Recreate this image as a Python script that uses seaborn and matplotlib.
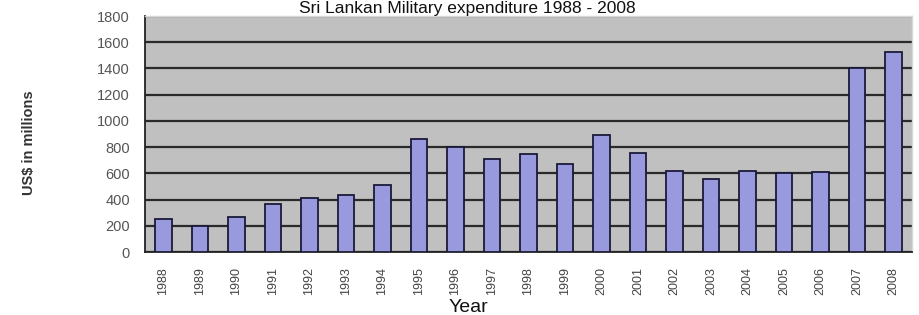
import numpy as np
import pandas as pd
import matplotlib
matplotlib.use('Agg')
import matplotlib.pyplot as plt
import seaborn as sns

years = [str(y) for y in range(1988, 2009)]
spend = [250, 195, 270, 365, 411, 437, 508, 864, 800, 710, 749, 672,
         894, 753, 615, 557, 615, 603, 611, 1400, 1527]
yticks = [0, 200, 400, 600, 800, 1000, 1200, 1400, 1600, 1800]

df = pd.DataFrame({'Year': years, 'spend': spend})

sns.set_style('white')
plt.rcParams['font.family'] = ['Liberation Sans', 'DejaVu Sans']

fig = plt.figure(figsize=(9.19, 3.15), dpi=100)
ax = fig.add_axes([0.158, 0.2, 0.834, 0.749])
ax.set_facecolor('#c0c0c0')

sns.barplot(data=df, x='Year', y='spend', color='#9999dd', width=0.45,
            edgecolor='#1a1a3a', linewidth=1.3, saturation=1, ax=ax, zorder=3)

ax.set_ylim(0, 1800)
ax.set_xlim(-0.5, len(years) - 0.5)
ax.set_yticks(yticks)
ax.set_yticklabels([str(v) for v in yticks], color='#555555', fontsize=10.5)
ax.yaxis.grid(True, color='#2a2a2a', linewidth=1.6, zorder=1)
ax.set_axisbelow(True)

ax.set_xticks(range(len(years)))
ax.set_xticklabels(years, rotation=90, fontsize=9, color='#444444')
ax.set_xticks(np.arange(len(years) + 1) - 0.5, minor=True)
ax.tick_params(axis='x', which='major', length=0, pad=11)
ax.tick_params(axis='x', which='minor', length=4, width=1.2, color='#222222')
ax.tick_params(axis='y', length=5, width=1.2, color='#222222', pad=6)

for side in ['left', 'bottom']:
    ax.spines[side].set_color('#222222')
    ax.spines[side].set_linewidth(1.3)
for side in ['top', 'right']:
    ax.spines[side].set_color('#d8d8d8')
    ax.spines[side].set_linewidth(1.0)

ax.set_xlabel('')
ax.set_ylabel('')
fig.text(0.032, 0.546, 'US$ in millions', rotation=90, ha='center', va='center',
         fontsize=10.5, fontweight='bold', color='#333333')
fig.text(0.51, 0.008, 'Year', ha='center', va='baseline', fontsize=14, color='#111111')
fig.text(0.508, 0.958, 'Sri Lankan Military expenditure 1988 - 2008', ha='center',
         va='baseline', fontsize=12.5, color='#111111')

fig.savefig('out.png', dpi=100)
